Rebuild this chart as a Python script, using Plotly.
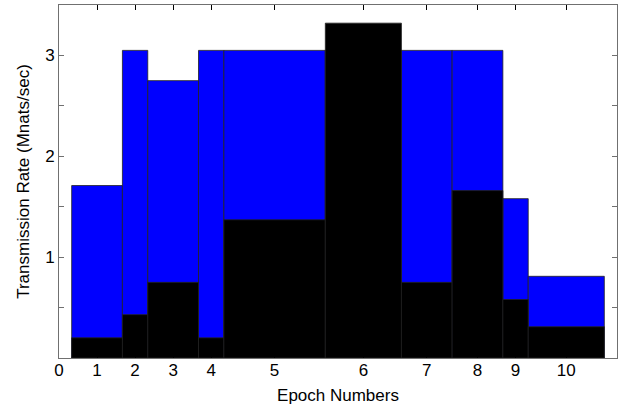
import plotly.graph_objects as go

# Data
epoch_labels = ["1", "2", "3", "4", "5", "6", "7", "8", "9", "10"]
epoch_start = [0.5, 2.5, 3.5, 5.5, 6.5, 10.5, 13.5, 15.5, 17.5, 18.5]
epoch_width = [2, 1, 2, 1, 4, 3, 2, 2, 1, 3]
rate_blue = [1.71, 3.05, 2.75, 3.05, 3.05, 3.05, 3.05, 3.05, 1.58, 0.81]
rate_black = [0.20, 0.43, 0.75, 0.20, 1.37, 3.32, 0.75, 1.66, 0.58, 0.31]

y_tickvals = [0.5, 1, 1.5, 2, 2.5, 3]
y_ticktext = ["", "1", "", "2", "", "3"]

centers = [s + w / 2 for s, w in zip(epoch_start, epoch_width)]

FONT = "Liberation Sans, Arial, sans-serif"
AXIS_GRAY = "#707070"

fig = go.Figure()
fig.add_trace(go.Bar(
    x=centers, y=rate_blue, width=epoch_width,
    marker=dict(color="#0000ff", line=dict(color="#222222", width=0.8)),
    showlegend=False, hoverinfo="skip",
))
fig.add_trace(go.Bar(
    x=centers, y=rate_black, width=epoch_width,
    marker=dict(color="#000000", line=dict(color="#222222", width=0.8)),
    showlegend=False, hoverinfo="skip",
))

fig.update_layout(
    width=627, height=410,
    barmode="overlay",
    hovermode=False,
    plot_bgcolor="white", paper_bgcolor="white",
    margin=dict(l=58.5, r=10, t=4.5, b=52, autoexpand=False),
    font=dict(family=FONT, size=17, color="#000000"),
)
fig.update_xaxes(
    range=[0, 22],
    tickvals=[0] + centers,
    ticktext=["0"] + epoch_labels,
    ticks="inside", ticklen=5, tickcolor="#000000", tickwidth=1,
    ticklabelstandoff=-3,
    showline=True, linecolor=AXIS_GRAY, linewidth=1, mirror="ticks",
    showgrid=False, zeroline=False,
    tickfont=dict(size=17),
    title=dict(text="Epoch Numbers", font=dict(size=17), standoff=9),
    automargin=False,
)
fig.update_yaxes(
    range=[0, 3.5],
    tickvals=y_tickvals, ticktext=y_ticktext,
    ticks="inside", ticklen=5, tickcolor=AXIS_GRAY, tickwidth=1,
    showline=True, linecolor=AXIS_GRAY, linewidth=1, mirror="ticks",
    showgrid=False, zeroline=False,
    tickfont=dict(size=17),
    title=dict(text="Transmission Rate (Mnats/sec)", font=dict(size=17), standoff=11),
    automargin=False,
)

fig.write_html(
    "out.html",
    config={"displayModeBar": False, "staticPlot": True},
    post_script="document.body.style.margin='0';document.body.style.overflow='hidden';",
)
